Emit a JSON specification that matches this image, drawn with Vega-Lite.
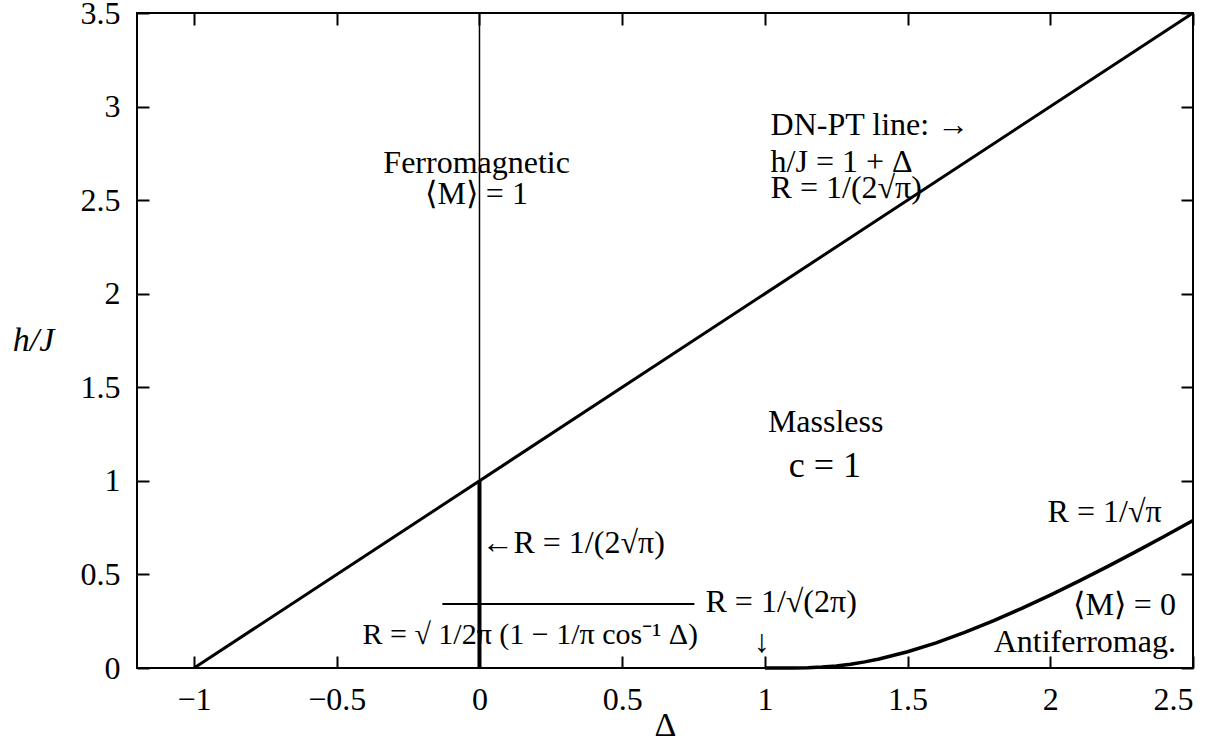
{
  "$schema": "https://vega.github.io/schema/vega-lite/v6.json",
  "width": 1056,
  "height": 655,
  "autosize": "none",
  "padding": {"left": 137, "top": 13, "right": 29, "bottom": 75},
  "background": "white",
  "config": {
    "view": {"stroke": "black", "strokeWidth": 2},
    "font": "Liberation Serif",
    "axis": {
      "domain": false,
      "grid": false,
      "tickColor": "black",
      "tickWidth": 2,
      "tickSize": -12,
      "labelFont": "Liberation Serif",
      "labelFontSize": 32,
      "labelColor": "black",
      "titleFont": "Liberation Serif",
      "titleColor": "black",
      "titleFontWeight": "normal",
      "titleFontSize": 34
    },
    "text": {"font": "Liberation Serif", "color": "black"}
  },
  "datasets": {
    "dnpt": [{"d": -1, "h": 0}, {"d": 2.5, "h": 3.5}],
    "vthin": [{"d": 0, "h0": 1, "h1": 3.5}],
    "vthick": [{"d": 0, "h0": 0, "h1": 1}],
    "vinc": [{"d0": -0.13, "d1": 0.753, "h": 0.342}],
    "af": [
      {"d": 1.0, "h": 0}, {"d": 1.1, "h": 0.0002}, {"d": 1.15, "h": 0.0014},
      {"d": 1.2, "h": 0.0048}, {"d": 1.25, "h": 0.011}, {"d": 1.3, "h": 0.0203},
      {"d": 1.35, "h": 0.0326}, {"d": 1.4, "h": 0.0479}, {"d": 1.5, "h": 0.0866},
      {"d": 1.6, "h": 0.1345}, {"d": 1.7, "h": 0.19}, {"d": 1.8, "h": 0.2518},
      {"d": 1.9, "h": 0.3186}, {"d": 2.0, "h": 0.3897}, {"d": 2.1, "h": 0.464},
      {"d": 2.2, "h": 0.5414}, {"d": 2.3, "h": 0.6218}, {"d": 2.4, "h": 0.704},
      {"d": 2.5, "h": 0.7879}
    ],
    "labCenter": [
      {"d": -0.01, "h": 2.646, "t": "Ferromagnetic"},
      {"d": -0.01, "h": 2.48, "t": "⟨M⟩ = 1"},
      {"d": 1.213, "h": 1.261, "t": "Massless"},
      {"d": 0.99, "h": 0.085, "t": "↓"}
    ],
    "labBig": [{"d": 1.21, "h": 1.021, "t": "c = 1"}],
    "labLeft": [
      {"d": 1.02, "h": 2.85, "t": "DN-PT line: →"},
      {"d": 1.02, "h": 2.65, "t": "h/J = 1 + Δ"},
      {"d": 1.02, "h": 2.51, "t": "R = 1/(2√π)"},
      {"d": 0.007, "h": 0.615, "t": "←R = 1/(2√π)"},
      {"d": 0.792, "h": 0.3, "t": "R = 1/√(2π)"}
    ],
    "labRad": [{"d": -0.41, "h": 0.128, "t": "R = √ 1/2π (1 − 1/π cos⁻¹ Δ)"}],
    "labRight": [
      {"d": 2.39, "h": 0.78, "t": "R = 1/√π"},
      {"d": 2.44, "h": 0.283, "t": "⟨M⟩ = 0"},
      {"d": 2.44, "h": 0.086, "t": "Antiferromag."}
    ]
  },
  "layer": [
    {
      "data": {"name": "dnpt"},
      "mark": {"type": "line", "color": "black", "strokeWidth": 3},
      "encoding": {
        "x": {
          "field": "d", "type": "quantitative",
          "scale": {"domain": [-1.2, 2.5], "nice": false, "zero": false},
          "axis": {"orient": "bottom", "values": [-1, -0.5, 0, 0.5, 1, 1.5, 2, 2.5], "format": "~g", "title": "Δ", "labelPadding": 28, "titleY": 67, "titleBaseline": "alphabetic"}
        },
        "y": {
          "field": "h", "type": "quantitative",
          "scale": {"domain": [0, 3.5], "nice": false, "zero": false},
          "axis": {"orient": "left", "values": [0, 0.5, 1, 1.5, 2, 2.5, 3, 3.5], "format": "~g", "title": "h/J", "labelPadding": 29, "titleAngle": 0, "titleFontStyle": "italic", "titleX": -104, "titleY": 337, "titleAlign": "center", "titleBaseline": "alphabetic"}
        }
      }
    },
    {
      "data": {"name": "dnpt"},
      "mark": {"type": "point", "opacity": 0},
      "encoding": {
        "x": {"field": "d", "type": "quantitative", "axis": {"orient": "top", "values": [-1, -0.5, 0, 0.5, 1, 1.5, 2, 2.5], "labels": false, "title": null}},
        "y": {"field": "h", "type": "quantitative", "axis": {"orient": "right", "values": [0, 0.5, 1, 1.5, 2, 2.5, 3, 3.5], "labels": false, "title": null}}
      }
    },
    {
      "data": {"name": "vthin"},
      "mark": {"type": "rule", "color": "black", "strokeWidth": 1.5},
      "encoding": {
        "x": {"field": "d", "type": "quantitative", "axis": null},
        "y": {"field": "h0", "type": "quantitative", "axis": null},
        "y2": {"field": "h1"}
      }
    },
    {
      "data": {"name": "vthick"},
      "mark": {"type": "rule", "color": "black", "strokeWidth": 4},
      "encoding": {
        "x": {"field": "d", "type": "quantitative", "axis": null},
        "y": {"field": "h0", "type": "quantitative", "axis": null},
        "y2": {"field": "h1"}
      }
    },
    {
      "data": {"name": "vinc"},
      "mark": {"type": "rule", "color": "black", "strokeWidth": 2.2},
      "encoding": {
        "x": {"field": "d0", "type": "quantitative", "axis": null},
        "x2": {"field": "d1"},
        "y": {"field": "h", "type": "quantitative", "axis": null}
      }
    },
    {
      "data": {"name": "af"},
      "mark": {"type": "line", "color": "black", "strokeWidth": 3.5},
      "encoding": {
        "x": {"field": "d", "type": "quantitative", "axis": null},
        "y": {"field": "h", "type": "quantitative", "axis": null}
      }
    },
    {
      "data": {"name": "labCenter"},
      "mark": {"type": "text", "align": "center", "baseline": "alphabetic", "fontSize": 32},
      "encoding": {
        "x": {"field": "d", "type": "quantitative", "axis": null},
        "y": {"field": "h", "type": "quantitative", "axis": null},
        "text": {"field": "t"}
      }
    },
    {
      "data": {"name": "labBig"},
      "mark": {"type": "text", "align": "center", "baseline": "alphabetic", "fontSize": 36},
      "encoding": {
        "x": {"field": "d", "type": "quantitative", "axis": null},
        "y": {"field": "h", "type": "quantitative", "axis": null},
        "text": {"field": "t"}
      }
    },
    {
      "data": {"name": "labLeft"},
      "mark": {"type": "text", "align": "left", "baseline": "alphabetic", "fontSize": 32},
      "encoding": {
        "x": {"field": "d", "type": "quantitative", "axis": null},
        "y": {"field": "h", "type": "quantitative", "axis": null},
        "text": {"field": "t"}
      }
    },
    {
      "data": {"name": "labRad"},
      "mark": {"type": "text", "align": "left", "baseline": "alphabetic", "fontSize": 30},
      "encoding": {
        "x": {"field": "d", "type": "quantitative", "axis": null},
        "y": {"field": "h", "type": "quantitative", "axis": null},
        "text": {"field": "t"}
      }
    },
    {
      "data": {"name": "labRight"},
      "mark": {"type": "text", "align": "right", "baseline": "alphabetic", "fontSize": 32},
      "encoding": {
        "x": {"field": "d", "type": "quantitative", "axis": null},
        "y": {"field": "h", "type": "quantitative", "axis": null},
        "text": {"field": "t"}
      }
    }
  ],
  "resolve": {"axis": {"x": "independent", "y": "independent"}}
}
